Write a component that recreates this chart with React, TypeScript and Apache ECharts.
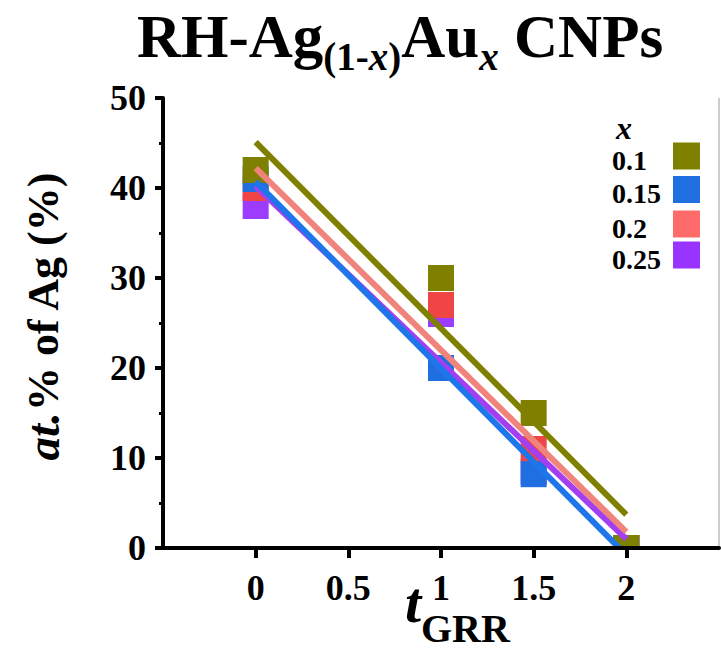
import React, { useEffect, useRef } from "react";
import * as echarts from "echarts";

const xValues = [0, 1, 1.5, 2];
const seriesNames = ["0.1", "0.15", "0.2", "0.25"];
const agOlive = [42, 30, 15, 0];
const agBlue = [41, 20, 8.2, 0];
const agRed = [40, 27, 11, 0];
const agPurple = [38, 26, 8.5, 0];
const fitStart = [45.1, 40.7, 42.2, 40.2];
const fitEnd = [3.7, -0.8, 1.8, 1.0];
const xTicks = [0, 0.5, 1, 1.5, 2];

const markerColors = ["#808000", "#1f6fe0", "#f04545", "#9b3cff"];
const legendColors = ["#808000", "#1f6fe0", "#ff6b6b", "#9933ff"];
const lineColors = ["#808000", "#1f76ea", "#f0847c", "#a33ff0"];

const FONT = "Liberation Serif, Times New Roman, serif";

export default function App() {
  const ref = useRef<HTMLDivElement>(null);
  useEffect(() => {
    if (!ref.current) return;
    const chart = echarts.init(ref.current, undefined, { renderer: "svg" });
    const values = [agOlive, agBlue, agRed, agPurple];
    const order = [3, 2, 1, 0]; // draw purple first, olive on top
    const scatterSeries = order.map((i) => ({
      type: "scatter",
      name: seriesNames[i],
      symbol: "rect",
      symbolSize: 26,
      itemStyle: { color: markerColors[i], opacity: 1 },
      data: xValues.map((x, k) => [x, values[i][k]]),
      z: 2,
    }));
    const lineSeries = [0, 3, 2, 1].map((i) => ({
      type: "line",
      name: "fit " + seriesNames[i],
      showSymbol: false,
      symbol: "none",
      lineStyle: { color: lineColors[i], width: 6 },
      data: [
        [xValues[0], fitStart[i]],
        [xValues[xValues.length - 1], fitEnd[i]],
      ],
      z: 3,
    }));

    const legendY = [156, 189.5, 224, 255];
    const legendGraphics: any[] = [];
    legendGraphics.push({
      type: "text",
      x: 624,
      y: 128,
      style: {
        text: "x",
        fontFamily: FONT,
        fontStyle: "italic",
        fontWeight: "bold",
        fontSize: 32,
        fill: "#000",
        align: "center",
        verticalAlign: "middle",
      },
    });
    seriesNames.forEach((name, i) => {
      legendGraphics.push({
        type: "text",
        x: 612,
        y: legendY[i] + 4,
        style: {
          text: name,
          fontFamily: FONT,
          fontWeight: "bold",
          fontSize: 28,
          fill: "#000",
          align: "left",
          verticalAlign: "middle",
        },
      });
      legendGraphics.push({
        type: "rect",
        shape: { x: 673, y: legendY[i] - 13.5, width: 27, height: 27 },
        style: { fill: legendColors[i] },
      });
    });

    chart.setOption({
      animation: false,
      backgroundColor: "#fff",
      grid: { left: 163, right: 2, top: 98, bottom: 107 },
      xAxis: {
        type: "value",
        min: -0.5,
        max: 2.5,
        interval: 0.5,
        z: 5,
        splitLine: { show: false },
        axisLine: { show: true, onZero: false, lineStyle: { color: "#000", width: 4 } },
        axisTick: { show: true, length: 10, lineStyle: { color: "#000", width: 4 } },
        axisLabel: {
          margin: 22,
          color: "#000",
          fontFamily: FONT,
          fontWeight: "bold",
          fontSize: 36,
          showMinLabel: false,
          showMaxLabel: false,
          formatter: (v: number) => (xTicks.includes(v) ? String(v) : ""),
        },
      },
      yAxis: {
        type: "value",
        min: 0,
        max: 50,
        interval: 10,
        z: 5,
        splitLine: { show: false },
        axisLine: { show: true, onZero: false, lineStyle: { color: "#000", width: 4 } },
        axisTick: { show: true, length: 8, lineStyle: { color: "#000", width: 4 } },
        minorTick: { show: true, splitNumber: 2, length: 4, lineStyle: { color: "#000", width: 3 } },
        axisLabel: {
          margin: 17,
          color: "#000",
          fontFamily: FONT,
          fontWeight: "bold",
          fontSize: 36,
        },
      },
      series: [...scatterSeries, ...lineSeries],
      graphic: [
        {
          type: "rect",
          shape: { x: 590, y: 550, width: 80, height: 16 },
          style: { fill: "#fff" },
          z: 4,
        },
        {
          type: "line",
          shape: { x1: 719, y1: 98, x2: 719, y2: 548 },
          style: { stroke: "#bdbdbd", lineWidth: 1.5 },
        },
        {
          type: "text",
          x: 137,
          y: -4,
          style: {
            text: "{a|RH-Ag}{s|(1-}{si|x}{s|)}{a|Au}{si|x}{a| CNPs}",
            verticalAlign: "top",
            align: "left",
            rich: {
              a: { fontFamily: FONT, fontWeight: "bold", fontSize: 61, lineHeight: 80, verticalAlign: "middle", fill: "#000" },
              s: { fontFamily: FONT, fontWeight: "bold", fontSize: 39, lineHeight: 32, verticalAlign: "bottom", fill: "#000" },
              si: { fontFamily: FONT, fontWeight: "bold", fontStyle: "italic", fontSize: 39, lineHeight: 32, verticalAlign: "bottom", fill: "#000" },
            },
          },
        },
        {
          type: "text",
          x: 421,
          y: 602,
          style: {
            text: "t",
            fontFamily: FONT,
            fontWeight: "bold",
            fontStyle: "italic",
            fontSize: 58,
            fill: "#000",
            align: "right",
            verticalAlign: "middle",
          },
        },
        {
          type: "text",
          x: 421,
          y: 628,
          style: {
            text: "GRR",
            fontFamily: FONT,
            fontWeight: "bold",
            fontSize: 40,
            fill: "#000",
            align: "left",
            verticalAlign: "middle",
          },
        },
        {
          type: "text",
          x: 43,
          y: 316,
          rotation: Math.PI / 2,
          style: {
            text: "{i|at.}{n|% of Ag (%)}",
            align: "center",
            verticalAlign: "middle",
            rich: {
              i: { fontFamily: FONT, fontWeight: "bold", fontStyle: "italic", fontSize: 47, fill: "#000" },
              n: { fontFamily: FONT, fontWeight: "bold", fontSize: 44, fill: "#000" },
            },
          },
        },
        ...legendGraphics,
      ],
    });
    return () => chart.dispose();
  }, []);
  return <div ref={ref} style={{ position: "fixed", left: 0, top: 0, width: 721, height: 655 }} />;
}
